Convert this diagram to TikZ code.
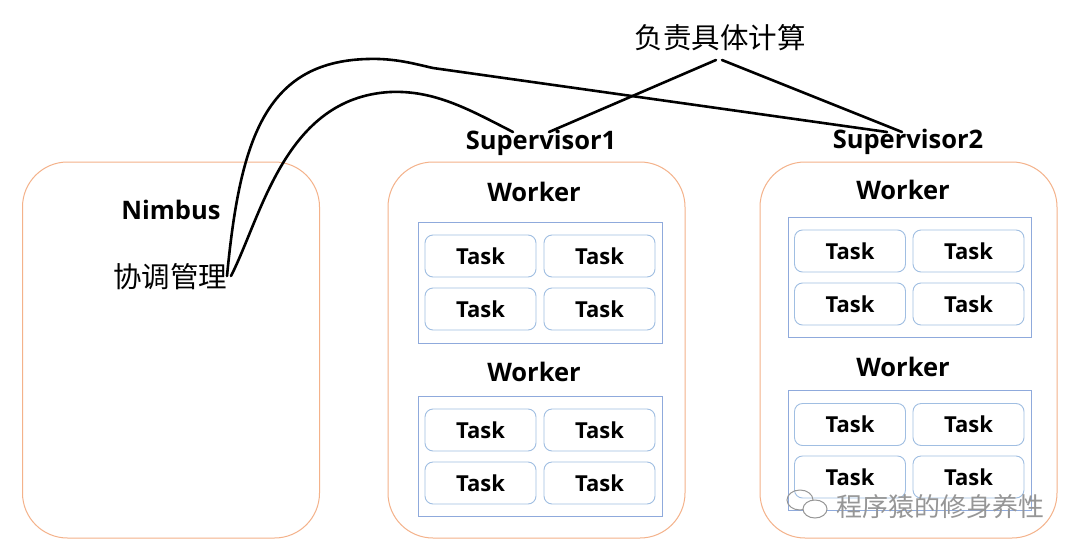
\documentclass[tikz,border=0pt]{standalone}
\usepackage{fontspec}
\setmainfont{Open Sans}
\newfontfamily\cjk{Noto Sans CJK SC}
\definecolor{boxorange}{RGB}{244,178,138}
\definecolor{wblue}{RGB}{143,170,220}
\definecolor{tblue}{RGB}{160,190,226}
\definecolor{wm}{RGB}{150,150,150}
\begin{document}
\begin{tikzpicture}[x=1pt,y=-1pt,
  supbox/.style={draw=boxorange, line width=1pt, rounded corners=45pt, minimum width=297pt, minimum height=376pt},
  wbox/.style={draw=wblue, line width=1pt, minimum width=244pt, minimum height=121pt},
  task/.style={draw=tblue, line width=0.9pt, rounded corners=8pt, minimum width=111pt, minimum height=42pt, inner sep=0pt, font=\fontsize{22}{22}\selectfont\bfseries},
  lab/.style={inner sep=0pt, font=\fontsize{25.5}{25.5}\selectfont\bfseries},
  cn/.style={inner sep=0pt, font=\cjk\fontsize{28.5}{28.5}\selectfont},
  conn/.style={line width=2.6pt, line cap=round, line join=round}]
\useasboundingbox[fill=white] (0,0) rectangle (1080,555);

% outer boxes
\node[supbox] (nimbusbox) at (171,350) {};
\node[supbox] (sup1box) at (536.5,350) {};
\node[supbox] (sup2box) at (908.5,350) {};

% labels
\node[lab] (nimbus) at (171,210) {Nimbus};
\node[cn] (xietiao) at (170,277) {协调管理};
\node[lab] (sup1) at (541,143) {Supervisor1};
\node[lab] (sup2) at (908,142) {Supervisor2};
\node[cn] (calc) at (720,38) {负责具体计算};

% Supervisor1 workers
\node[lab] (w11) at (534,192) {Worker};
\node[wbox] (w11box) at (540,282.5) {};
\node[task] (t111) at (480.5,256) {Task};
\node[task] (t112) at (599.5,256) {Task};
\node[task] (t113) at (480.5,309) {Task};
\node[task] (t114) at (599.5,309) {Task};
\node[lab] (w12) at (534,372) {Worker};
\node[wbox, minimum height=120pt] (w12box) at (540,456) {};
\node[task] (t121) at (480.5,430) {Task};
\node[task] (t122) at (599.5,430) {Task};
\node[task] (t123) at (480.5,483) {Task};
\node[task] (t124) at (599.5,483) {Task};

% Supervisor2 workers
\node[lab] (w21) at (903,190) {Worker};
\node[wbox, minimum width=243pt, minimum height=120pt] (w21box) at (909.5,277) {};
\node[task] (t211) at (850,251) {Task};
\node[task] (t212) at (968.5,251) {Task};
\node[task] (t213) at (850,304) {Task};
\node[task] (t214) at (968.5,304) {Task};
\node[lab] (w22) at (903,367) {Worker};
\node[wbox, minimum width=243pt, minimum height=120pt] (w22box) at (909.5,450) {};
\node[task] (t221) at (850,424.5) {Task};
\node[task] (t222) at (968.5,424.5) {Task};
\node[task] (t223) at (850,477) {Task};
\node[task] (t224) at (968.5,477) {Task};

% connector end points
\coordinate (calcL) at (716,60);
\coordinate (calcR) at (722,60);
\coordinate (s1t) at (549,132);
\coordinate (s2t) at (902,132);
\coordinate (s2tl) at (887,132);
\coordinate (s1tl) at (513,132);
\coordinate (xa) at (227,276);
\coordinate (xb) at (231,276);
\coordinate (top1) at (367,59);
\coordinate (top2) at (390,92);

\draw[conn] (calcL) -- (s1t);
\draw[conn] (calcR) -- (s2t);
\draw[conn] (xa) .. controls (240,140) and (265,62) .. (top1)
  .. controls (395,58) and (415,64) .. (433,68) -- (s2tl);
\draw[conn] (xb) .. controls (262,215) and (285,98) .. (top2)
  .. controls (435,90) and (470,110) .. (s1tl);

% watermark
\node[inner sep=0pt, text=wm, font=\cjk\fontsize{26}{26}\selectfont] (wmtext) at (940,507) {程序猿的修身养性};
\draw[wm, line width=1pt] (800,500) ellipse (13pt and 10pt);
\draw[wm, line width=1pt, fill=white] (815,509) ellipse (12pt and 9pt);
\end{tikzpicture}
\end{document}
